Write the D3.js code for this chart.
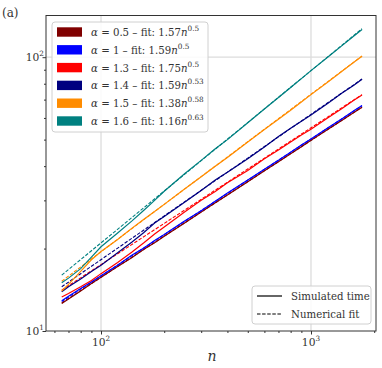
<!DOCTYPE html>
<html>
<head>
<meta charset="utf-8">
<title>alpha fits</title>
<script src="https://d3js.org/d3.v7.min.js"></script>
<style>
  body { margin: 0; background: #fff; }
</style>
</head>
<body>
<div id="chart"></div>
<script>
// sampled sizes n
var nVals = [65, 70, 80, 90, 100, 120, 140, 160, 180, 200, 250, 300, 350, 400, 500, 600, 700, 800, 900, 1000, 1200, 1400, 1600, 1750];

// simulated time
var simBrown  = [12.6, 13.1, 14.0, 14.9, 15.7, 17.2, 18.5, 19.9, 21.0, 22.2, 24.8, 27.2, 29.4, 31.4, 35.1, 38.5, 41.5, 44.4, 47.1, 49.7, 54.4, 58.7, 62.8, 65.7];
var simBlue   = [12.9, 13.4, 14.3, 15.1, 15.9, 17.4, 18.9, 20.1, 21.4, 22.5, 25.2, 27.5, 29.8, 31.9, 35.6, 39.0, 42.0, 45.0, 47.8, 50.3, 55.1, 59.5, 63.7, 66.6];
var simRed    = [13.3, 13.7, 14.5, 15.3, 16.2, 17.8, 19.4, 21.0, 22.6, 24.0, 27.2, 30.0, 32.3, 34.8, 38.6, 42.6, 45.8, 49.0, 52.0, 54.6, 60.0, 64.8, 69.6, 72.7];
var simNavy   = [13.9, 14.5, 15.5, 16.5, 17.4, 19.3, 21.1, 22.9, 24.8, 26.2, 29.5, 32.6, 35.6, 38.0, 42.6, 47.0, 51.3, 55.0, 58.3, 61.5, 67.8, 73.8, 79.0, 83.0];
var simOrange = [14.0, 14.8, 16.5, 18.2, 19.5, 21.6, 23.7, 25.6, 27.3, 29.0, 33.0, 36.6, 40.0, 43.0, 49.0, 54.4, 59.3, 64.0, 68.6, 73.0, 81.0, 88.6, 95.8, 100.8];
var simTeal   = [15.0, 15.6, 16.9, 18.6, 20.3, 22.8, 25.2, 27.6, 30.0, 32.4, 37.5, 42.0, 46.3, 50.0, 57.6, 64.7, 71.3, 77.5, 83.5, 89.3, 100.0, 110.0, 119.5, 126.3];

// fitted power laws (straight on log-log): values at first and last n
var fitStart = [12.66, 12.82, 14.1, 14.5, 15.2, 16.0];
var fitEnd   = [65.7, 66.5, 73.0, 83.2, 101.0, 127.0];

var alphas   = ["0.5", "1", "1.3", "1.4", "1.5", "1.6"];
var fitCoef  = ["1.57", "1.59", "1.75", "1.59", "1.38", "1.16"];
var fitExp   = ["0.5", "0.5", "0.5", "0.53", "0.58", "0.63"];
var colors   = ["#800000", "#0000ff", "#ff0000", "#000080", "#ff8c00", "#008080"];
var simSeries = [simBrown, simBlue, simRed, simNavy, simOrange, simTeal];

var xMajor = [100, 1000];
var yMajor = [10, 100];

var width = 382, height = 368;
var svg = d3.select("#chart").append("svg")
    .attr("width", width)
    .attr("height", height)
    .attr("font-family", "'DejaVu Serif', serif");

var x = d3.scaleLog().domain([54.7, 2040]).range([46, 376]);
var y = d3.scaleLog().domain([10, 142]).range([331, 15.5]);

// grid
svg.append("g").selectAll("line").data(xMajor).enter().append("line")
    .attr("x1", d => x(d)).attr("x2", d => x(d))
    .attr("y1", y.range()[0]).attr("y2", y.range()[1])
    .style("stroke", "#dcdcdc").style("stroke-width", 1.3);
svg.append("g").selectAll("line").data([100]).enter().append("line")
    .attr("y1", d => y(d)).attr("y2", d => y(d))
    .attr("x1", x.range()[0]).attr("x2", x.range()[1])
    .style("stroke", "#dcdcdc").style("stroke-width", 1.3);

// minor ticks
var xMinor = [60, 70, 80, 90, 200, 300, 400, 500, 600, 700, 800, 900, 2000];
var yMinor = [20, 30, 40, 50, 60, 70, 80, 90];

var xAxis = svg.append("g").attr("transform", "translate(0,331)");
xAxis.call(d3.axisBottom(x).tickValues(xMinor).tickSize(2).tickFormat(""));
xAxis.append("g").call(d3.axisBottom(x).tickValues(xMajor).tickSize(3.5).tickFormat(""));
xAxis.selectAll(".domain").remove();
xAxis.selectAll("line").style("stroke", "#333");

var yAxis = svg.append("g").attr("transform", "translate(46,0)");
yAxis.call(d3.axisLeft(y).tickValues(yMinor).tickSize(2).tickFormat(""));
yAxis.append("g").call(d3.axisLeft(y).tickValues(yMajor).tickSize(3.5).tickFormat(""));
yAxis.selectAll(".domain").remove();
yAxis.selectAll("line").style("stroke", "#333");

var txt = "#333";
var fs = 10.2, fsSup = 7.3;

// tick labels as 10^k
xMajor.forEach(function (v) {
  var t = svg.append("text").attr("x", x(v)).attr("y", 346)
      .attr("text-anchor", "middle").attr("font-size", fs + 0.5).attr("fill", txt);
  t.append("tspan").text("10");
  t.append("tspan").attr("dy", -5).attr("font-size", fsSup).text(Math.round(Math.log10(v)));
});
yMajor.forEach(function (v) {
  var t = svg.append("text").attr("x", 44).attr("y", y(v) + 4)
      .attr("text-anchor", "end").attr("font-size", fs + 0.5).attr("fill", txt);
  t.append("tspan").text("10");
  t.append("tspan").attr("dy", -5).attr("font-size", fsSup).text(Math.round(Math.log10(v)));
});

// lines
var line = d3.line().x(d => x(d[0])).y(d => y(d[1]));
var n0 = nVals[0], n1 = nVals[nVals.length - 1];

colors.forEach(function (c, i) {
  svg.append("path")
      .datum([[n0, fitStart[i]], [n1, fitEnd[i]]])
      .attr("d", line)
      .style("fill", "none").style("stroke", c)
      .style("stroke-width", 1.1).style("stroke-dasharray", "3.5,1.6");
});
colors.forEach(function (c, i) {
  svg.append("path")
      .datum(nVals.map((n, k) => [n, simSeries[i][k]]))
      .attr("d", line)
      .style("fill", "none").style("stroke", c)
      .style("stroke-width", 1.2);
});

// frame
svg.append("rect")
    .attr("x", 46).attr("y", 15.5)
    .attr("width", 330).attr("height", 331 - 15.5)
    .style("fill", "none").style("stroke", "#333").style("stroke-width", 1);

// legend of alphas
var leg = svg.append("g");
leg.append("rect").attr("x", 52).attr("y", 22).attr("width", 156).attr("height", 110)
    .attr("rx", 3).style("fill", "#fff").style("fill-opacity", 0.85)
    .style("stroke", "#d0d0d0").style("stroke-width", 1);
alphas.forEach(function (a, i) {
  var cy = 32 + i * 17.8;
  leg.append("rect").attr("x", 57).attr("y", cy - 4.7).attr("width", 25).attr("height", 9.4)
      .style("fill", colors[i]);
  var t = leg.append("text").attr("x", 91).attr("y", cy + 4)
      .attr("font-size", fs).attr("fill", txt);
  t.append("tspan").attr("font-style", "italic").text("\u03b1");
  t.append("tspan").text(" = " + a + " \u2013 fit: " + fitCoef[i]);
  t.append("tspan").attr("font-style", "italic").text("n");
  t.append("tspan").attr("dy", -5).attr("font-size", fsSup).text(fitExp[i]);
});

// legend of line styles
var leg2 = svg.append("g");
leg2.append("rect").attr("x", 252).attr("y", 286).attr("width", 119).attr("height", 38)
    .attr("rx", 3).style("fill", "#fff").style("fill-opacity", 0.85)
    .style("stroke", "#d0d0d0").style("stroke-width", 1);
[["Simulated time", null], ["Numerical fit", "3.5,1.6"]].forEach(function (d, i) {
  var cy = 296 + i * 18;
  leg2.append("line").attr("x1", 257).attr("x2", 282).attr("y1", cy).attr("y2", cy)
      .style("stroke", "#000").style("stroke-width", 1.2)
      .style("stroke-dasharray", d[1]);
  leg2.append("text").attr("x", 291).attr("y", cy + 4)
      .attr("font-size", fs).attr("fill", txt).text(d[0]);
});

// labels
svg.append("text").attr("x", 212).attr("y", 361).attr("text-anchor", "middle")
    .attr("font-size", 14).attr("font-style", "italic").attr("fill", txt).text("n");
svg.append("text").attr("x", 2).attr("y", 17).attr("font-size", 12).attr("fill", txt).text("(a)");
</script>
</body>
</html>
